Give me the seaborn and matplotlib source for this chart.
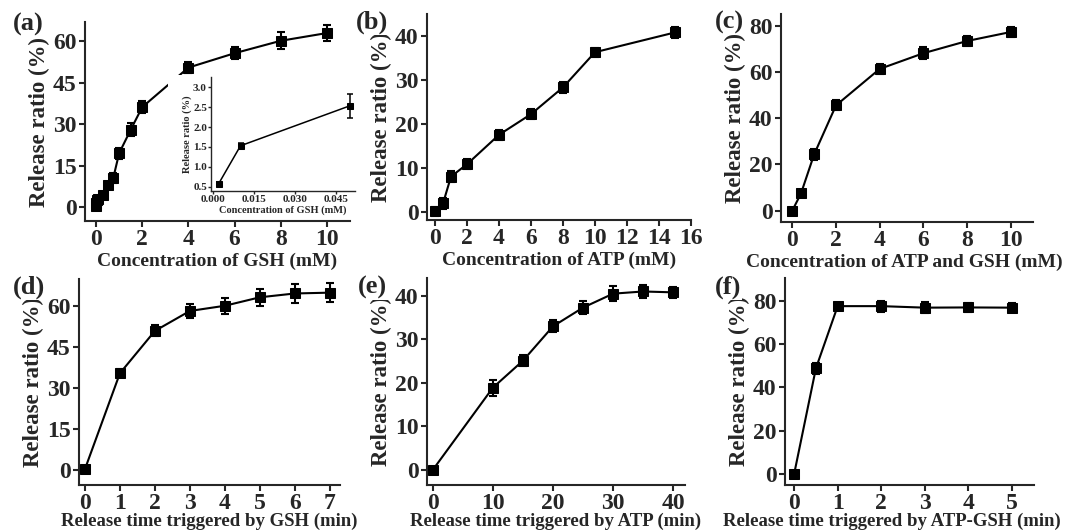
import matplotlib
matplotlib.use("Agg")
import matplotlib.pyplot as plt
from matplotlib.patches import Rectangle
import seaborn as sns

# (a) GSH concentration
gsh_conc = [0.002, 0.01, 0.05, 0.1, 0.3, 0.5, 0.75, 1, 1.5, 2, 4, 6, 8, 10]
gsh_ratio = [0.6, 1.55, 2.5, 3.0, 4.5, 8.0, 10.7, 19.5, 28.0, 36.2, 50.5, 55.7, 60.2, 63.0]
gsh_err = [0.1, 0.1, 0.3, 0.4, 0.8, 1.0, 1.8, 2.0, 2.3, 2.2, 2.0, 2.2, 3.0, 3.0]

# inset of (a)
inset_conc = [0.002, 0.01, 0.05]
inset_ratio = [0.58, 1.53, 2.53]
inset_err = [0.03, 0.08, 0.3]

# (b) ATP concentration
atp_conc = [0, 0.5, 1, 2, 4, 6, 8, 10, 15]
atp_ratio = [0.1, 1.9, 8.0, 10.8, 17.5, 22.2, 28.3, 36.3, 40.8]
atp_err = [1.0, 1.3, 1.2, 1.1, 1.1, 1.1, 1.2, 1.0, 1.3]

# (c) ATP and GSH concentration
mix_conc = [0, 0.4, 1, 2, 4, 6, 8, 10]
mix_ratio = [0, 7.5, 24.4, 45.6, 61.4, 68.2, 73.5, 77.4]
mix_err = [0.5, 1.0, 2.5, 2.2, 2.0, 2.5, 2.0, 2.2]

# (d) release time, GSH
t_gsh = [0, 1, 2, 3, 4, 5, 6, 7]
t_gsh_ratio = [0.3, 35.4, 50.9, 58.2, 60.1, 63.2, 64.6, 64.9]
t_gsh_err = [0.5, 1.5, 2.0, 2.5, 3.0, 3.2, 3.5, 3.5]

# (e) release time, ATP
t_atp = [0, 10, 15, 20, 25, 30, 35, 40]
t_atp_ratio = [0, 18.9, 25.1, 33.0, 37.3, 40.5, 41.0, 40.8]
t_atp_err = [0.3, 1.8, 1.3, 1.4, 1.5, 1.8, 1.5, 1.3]

# (f) release time, ATP-GSH
t_mix = [0, 0.5, 1, 2, 3, 4, 5]
t_mix_ratio = [0, 48.8, 77.5, 77.5, 76.8, 76.9, 76.8]
t_mix_err = [0.5, 2.5, 1.5, 2.5, 2.5, 2.0, 2.0]

sns.set_style("ticks")
plt.rcParams['font.family'] = ['Liberation Serif', 'DejaVu Serif']
plt.rcParams['font.weight'] = 'bold'
plt.rcParams['axes.labelweight'] = 'bold'

fig = plt.figure(figsize=(10.66, 5.3), dpi=100)

panels = [
    ("(a)", [0.0797, 0.583, 0.2486, 0.3755], gsh_conc, gsh_ratio, gsh_err,
     (-0.48, 11.0), (-5, 67), range(0, 11, 2), range(0, 61, 15),
     "Concentration of GSH (mM)", 14, 2, 0.5, (0.012, 0.953)),
    ("(b)", [0.4003, 0.5849, 0.2479, 0.3887], atp_conc, atp_ratio, atp_err,
     (-0.52, 16.0), (-1.9, 45), range(0, 17, 2), range(0, 41, 10),
     "Concentration of ATP (mM)", 14, 2, 0.5, (0.334, 0.958)),
    ("(c)", [0.7326, 0.5817, 0.2361, 0.3919], mix_conc, mix_ratio, mix_err,
     (-0.52, 11.0), (-4.8, 85.2), range(0, 11, 2), range(0, 81, 20),
     "Concentration of ATP and GSH (mM)", 14, 2, 0.49, (0.671, 0.958)),
    ("(d)", [0.0741, 0.0849, 0.2448, 0.3887], t_gsh, t_gsh_ratio, t_gsh_err,
     (-0.17, 7.29), (-5.5, 69.9), range(0, 8), range(0, 61, 15),
     "Release time triggered by GSH (min)", 13.5, -1, 0.5, (0.012, 0.458)),
    ("(e)", [0.4003, 0.0849, 0.2423, 0.3906], t_atp, t_atp_ratio, t_atp_err,
     (-1.0, 41.95), (-3.45, 44.1), range(0, 41, 10), range(0, 41, 10),
     "Release time triggered by ATP (min)", 13.5, -1, 0.5, (0.336, 0.458)),
    ("(f)", [0.7364, 0.0849, 0.2336, 0.3906], t_mix, t_mix_ratio, t_mix_err,
     (-0.21, 5.51), (-5.1, 90.5), range(0, 6), range(0, 81, 20),
     "Release time triggered by ATP-GSH (min)", 13.5, -1, 0.43, (0.671, 0.458)),
]


def draw_curve(ax, x, y, err, ms, lw, cap):
    ax.errorbar(x, y, yerr=err, fmt='none', ecolor='black',
                elinewidth=lw, capsize=cap, capthick=lw, zorder=2)
    sns.lineplot(x=x, y=y, ax=ax, color='black', marker='s',
                 markersize=ms, markeredgecolor='black', linewidth=lw,
                 zorder=3)


for (tag, rect, x, y, err, xlim, ylim, xt, yt,
     xlabel, xfs, xpad, xlab_x, tpos) in panels:
    ax = fig.add_axes(rect)
    draw_curve(ax, x, y, err, 6.5, 1.5, 3)
    ax.set_xlim(*xlim)
    ax.set_ylim(*ylim)
    ax.set_xticks(list(xt))
    ax.set_yticks(list(yt))
    ax.set_xlabel(xlabel, fontsize=xfs, labelpad=xpad)
    ax.xaxis.label.set_x(xlab_x)
    ax.set_ylabel("Release ratio (%)", fontsize=16.5, labelpad=2)
    ax.tick_params(labelsize=17, width=1.5, length=4, pad=2)
    for side in ("top", "right"):
        ax.spines[side].set_visible(False)
    for side in ("left", "bottom"):
        ax.spines[side].set_linewidth(1.5)
    fig.text(tpos[0], tpos[1], tag, fontsize=19, fontweight='bold',
             va='center', ha='left', zorder=5,
             bbox=dict(facecolor='white', edgecolor='none', pad=0.5))

# white backing of the inset picture (hides part of the main curve)
fig.patches.append(Rectangle((0.158, 0.593), 0.176, 0.265,
                             transform=fig.transFigure, facecolor='white',
                             edgecolor='none', zorder=1))

# inset in panel (a)
axi = fig.add_axes([0.198, 0.640, 0.135, 0.215])
axi.set_zorder(2)
axi.set_facecolor('white')
draw_curve(axi, inset_conc, inset_ratio, inset_err, 4, 1.1, 2)
axi.set_xlim(-0.0008, 0.052)
axi.set_ylim(0.4, 3.26)
axi.set_xticks([0.0, 0.015, 0.030, 0.045])
axi.set_xticklabels(["0.000", "0.015", "0.030", "0.045"])
axi.set_yticks([0.5, 1.0, 1.5, 2.0, 2.5, 3.0])
axi.set_yticklabels(["0.5", "1.0", "1.5", "2.0", "2.5", "3.0"])
axi.set_xlabel("Concentration of GSH (mM)", fontsize=7.5, labelpad=1)
axi.set_ylabel("Release ratio (%)", fontsize=7.5, labelpad=1)
axi.tick_params(labelsize=8, width=1, length=2, pad=1)
for side in ("top", "right"):
    axi.spines[side].set_visible(False)
for side in ("left", "bottom"):
    axi.spines[side].set_linewidth(1)

fig.savefig("out.png", dpi=100)
